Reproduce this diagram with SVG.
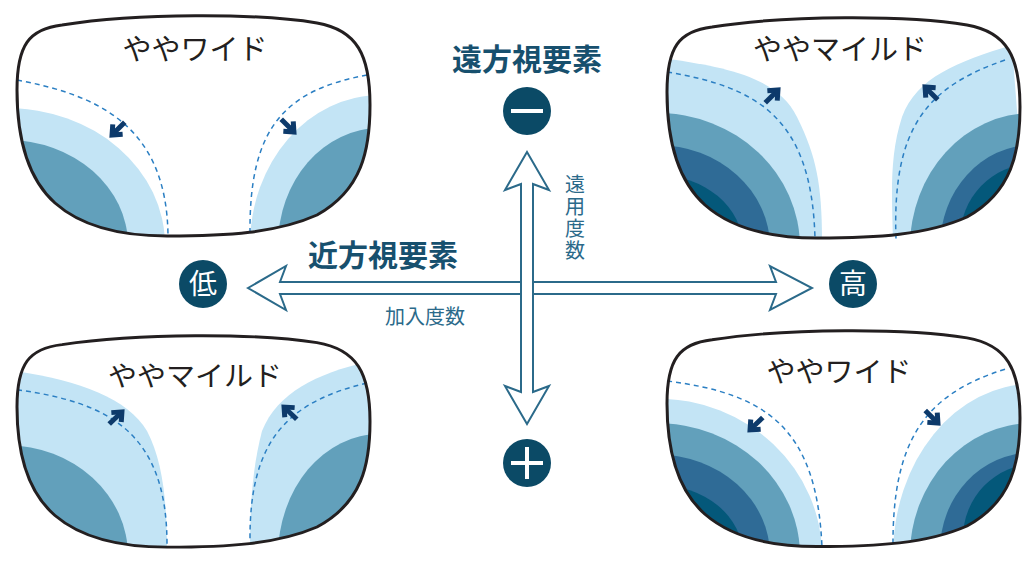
<svg xmlns="http://www.w3.org/2000/svg" xmlns:xlink="http://www.w3.org/1999/xlink" width="1024" height="561" viewBox="0 0 1024 561">
<style>
.l{fill:#c3e4f5}.m{fill:#62a0bb}.d{fill:#2f6b96}.k{fill:#04587a}
.dash{fill:none;stroke:#2b7fc3;stroke-width:1.5;stroke-dasharray:5 4}
.rim{fill:none;stroke:#231f20;stroke-width:3}
.lbl{font-family:"Noto Sans CJK JP","Noto Sans",sans-serif;font-size:29px;fill:#231f20;text-anchor:middle}
.hd{font-family:"Noto Sans CJK JP",sans-serif;font-size:30px;font-weight:bold;fill:#17506e;text-anchor:middle}
.sm{font-family:"Noto Sans CJK JP",sans-serif;font-size:20px;fill:#2b6a8a;text-anchor:middle}
.ct{font-family:"Noto Sans CJK JP",sans-serif;font-size:28px;fill:#fff;text-anchor:middle}
.ax{fill:#fff;stroke:#2b6a8a;stroke-width:2;stroke-linejoin:miter}
</style>
<defs>
<path id="lens" d="M0,75 C0,30 12,14 45,10 C120,-2 240,-2 300,8 C340,15 353,40 353,90 C353,135 345,175 300,200 C260,218 210,221 150,221 C105,221 65,212 38,188 C10,163 0,120 0,75 Z"/>
<clipPath id="cl"><use xlink:href="#lens"/></clipPath>
<g id="arr"><path d="M0,11 L0,-4" stroke="#0d3a6b" stroke-width="5" fill="none"/><path d="M-7,1 L0,-7 L7,1" stroke="#0d3a6b" stroke-width="5" fill="none"/></g>
</defs>

<g id="lens-tl" transform="translate(17,15)">
<use xlink:href="#lens" fill="#fff"/>
<g clip-path="url(#cl)">
<ellipse class="l" cx="-10" cy="230" rx="158" ry="137"/>
<ellipse class="m" cx="-10" cy="230" rx="121" ry="105"/>
<ellipse class="l" cx="363" cy="230" rx="130" ry="150"/>
<ellipse class="m" cx="363" cy="230" rx="102" ry="117"/>
</g>
<path class="dash" d="M0,65 C80,80 150,110 151,221"/>
<path class="dash" d="M350,60 C270,75 232,110 233,218"/>
<use xlink:href="#arr" transform="translate(100,115) rotate(-135)"/>
<use xlink:href="#arr" transform="translate(272,112) rotate(135)"/>
<use xlink:href="#lens" class="rim"/>
<text class="lbl" x="178" y="45">ややワイド</text>
</g>

<g id="lens-tr" transform="translate(667,17)">
<use xlink:href="#lens" fill="#fff"/>
<g clip-path="url(#cl)">
<path class="l" d="M-5,41 C60,50 110,60 130,100 C150,140 155,170 155,225 L-5,225 Z"/>
<ellipse class="m" cx="-10" cy="230" rx="143" ry="134"/>
<ellipse class="d" cx="-10" cy="230" rx="113" ry="102"/>
<ellipse class="k" cx="-10" cy="230" rx="86" ry="72"/>
<path class="l" d="M345,28 C290,45 250,60 235,100 C222,140 225,180 226,225 L360,225 Z"/>
<ellipse class="m" cx="365" cy="230" rx="122" ry="134"/>
<ellipse class="d" cx="365" cy="230" rx="92" ry="102"/>
<ellipse class="k" cx="365" cy="222" rx="72" ry="75"/>
</g>
<path class="dash" d="M0,55 C90,70 145,100 148,222"/>
<path class="dash" d="M338,43 C260,70 225,110 229,222"/>
<use xlink:href="#arr" transform="translate(106,78) rotate(45)"/>
<use xlink:href="#arr" transform="translate(263,75) rotate(-45)"/>
<use xlink:href="#lens" class="rim"/>
<text class="lbl" x="173" y="43">ややマイルド</text>
</g>

<g id="lens-bl" transform="translate(17,335) scale(1,0.96)">
<use xlink:href="#lens" fill="#fff"/>
<g clip-path="url(#cl)">
<path class="l" d="M-5,37 C60,47 110,65 130,100 C145,130 150,170 150,225 L-5,225 Z"/>
<ellipse class="m" cx="-10" cy="230" rx="121" ry="115"/>
<path class="l" d="M350,28 C300,40 260,60 245,100 C235,140 233,180 233,225 L360,225 Z"/>
<ellipse class="m" cx="363" cy="230" rx="102" ry="127"/>
</g>
<path class="dash" d="M0,57 C90,70 150,100 150,218"/>
<path class="dash" d="M350,50 C270,70 232,110 233,215"/>
<use xlink:href="#arr" transform="translate(100,85) rotate(45)"/>
<use xlink:href="#arr" transform="translate(272,80) rotate(-45)"/>
<use xlink:href="#lens" class="rim"/>
<text class="lbl" x="178" y="53">ややマイルド</text>
</g>

<g id="lens-br" transform="translate(667,330) scale(1,0.98)">
<use xlink:href="#lens" fill="#fff"/>
<g clip-path="url(#cl)">
<ellipse class="l" cx="-10" cy="230" rx="165" ry="160"/>
<ellipse class="m" cx="-10" cy="230" rx="143" ry="135"/>
<ellipse class="d" cx="-10" cy="230" rx="113" ry="103"/>
<ellipse class="k" cx="-10" cy="230" rx="86" ry="72"/>
<ellipse class="l" cx="365" cy="230" rx="139" ry="175"/>
<ellipse class="m" cx="365" cy="230" rx="122" ry="135"/>
<ellipse class="d" cx="365" cy="225" rx="92" ry="100"/>
<ellipse class="k" cx="368" cy="212" rx="72" ry="75"/>
</g>
<path class="dash" d="M0,52 C100,65 150,100 155,222"/>
<path class="dash" d="M338,40 C260,65 225,110 226,222"/>
<use xlink:href="#arr" transform="translate(88,97) rotate(-135)"/>
<use xlink:href="#arr" transform="translate(266,90) rotate(135)"/>
<use xlink:href="#lens" class="rim"/>
<text class="lbl" x="172" y="53">ややワイド</text>
</g>

<g id="axes">
<polygon class="ax" points="248,288 286,266 280,282 776,282 770,266 812,288 770,310 776,294 280,294 286,310"/>
<polygon class="ax" points="527,152 549,190 533,184 533,392 549,386 527,424 505,386 521,392 521,184 505,190"/>
</g>

<g id="labels">
<text class="hd" x="527" y="70">遠方視要素</text>
<text class="hd" x="383" y="266">近方視要素</text>
<text class="sm" x="575" y="174" writing-mode="vertical-rl" style="text-anchor:start;letter-spacing:2px">遠用度数</text>
<text class="sm" x="425" y="324">加入度数</text>
</g>

<g id="minus"><circle cx="527" cy="111" r="24" fill="#0b4a66"/><rect x="511" y="109" width="32" height="4" fill="#fff"/></g>
<g id="plus"><circle cx="527" cy="463" r="24" fill="#0b4a66"/><rect x="511" y="461" width="32" height="4" fill="#fff"/><rect x="525" y="447" width="4" height="32" fill="#fff"/></g>
<g id="low"><circle cx="203" cy="284" r="24" fill="#0b4a66"/><text class="ct" x="203" y="294">低</text></g>
<g id="high"><circle cx="853" cy="284" r="24" fill="#0b4a66"/><text class="ct" x="853" y="294">高</text></g>
</svg>
